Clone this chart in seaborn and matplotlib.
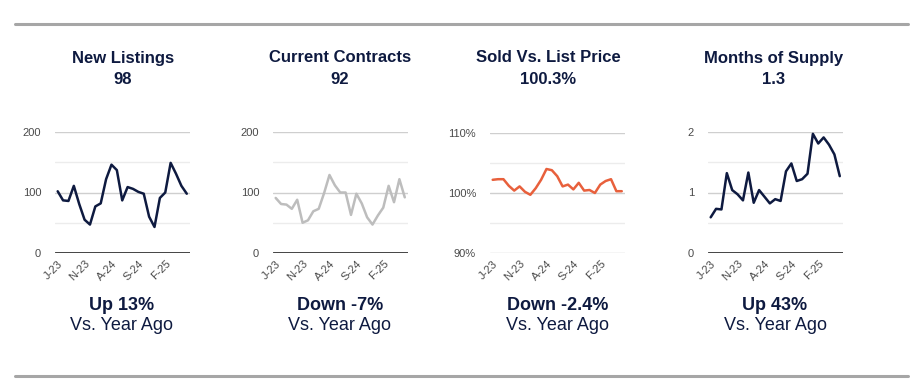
import pandas as pd
import matplotlib
matplotlib.use("Agg")
import matplotlib.pyplot as plt
import seaborn as sns

# monthly series, Jun 2023 .. Jun 2025
new_listings = [102, 87, 86, 111, 81, 55, 47, 77, 82, 122, 146, 137, 87, 109,
                106, 101, 98, 60, 43, 91, 100, 149, 131, 111, 98]
current_contracts = [91, 81, 80, 73, 88, 50, 54, 69, 73, 99, 129, 112, 100, 100,
                     63, 98, 82, 59, 47, 62, 75, 111, 84, 122, 92]
sold_vs_list = [102.2, 102.3, 102.3, 101.2, 100.4, 101.1, 100.2, 99.7, 100.8,
                102.2, 104.0, 103.8, 102.8, 101.1, 101.4, 100.6, 101.7, 100.4,
                100.5, 100.0, 101.4, 102.0, 102.3, 100.3, 100.3]
months_supply = [0.59, 0.73, 0.72, 1.32, 1.04, 0.97, 0.87, 1.33, 0.83, 1.04,
                 0.93, 0.82, 0.89, 0.86, 1.35, 1.48, 1.19, 1.22, 1.31, 1.97,
                 1.81, 1.91, 1.79, 1.63, 1.27]

tick_pos = [0, 5, 10, 15, 20]
tick_labels = ["J-23", "N-23", "A-24", "S-24", "F-25"]

titles = ["New Listings", "Current Contracts", "Sold Vs. List Price", "Months of Supply"]
headline = ["98", "92", "100.3%", "1.3"]
change = ["Up 13%", "Down -7%", "Down -2.4%", "Up 43%"]

navy = "#0e1a40"
series = [new_listings, current_contracts, sold_vs_list, months_supply]
colors = [navy, "#bdbdbd", "#e8603c", navy]
ylims = [(0, 200), (0, 200), (90, 110), (0, 2)]
yticks = [[0, 100, 200], [0, 100, 200], [90, 100, 110], [0, 1, 2]]
ylabels = [["0", "100", "200"], ["0", "100", "200"], ["90%", "100%", "110%"], ["0", "1", "2"]]
minor = [[50, 150], [50, 150], [95, 105], [0.5, 1.5]]
black_base = [True, True, False, True]

sns.set_theme(style="white")
plt.rcParams["font.family"] = ["Liberation Sans", "DejaVu Sans"]

W, H = 923, 388
fig = plt.figure(figsize=(W / 100, H / 100), dpi=100)

# axes boxes in pixels: left, top, right, bottom
boxes = [(55, 132, 190, 253), (273, 132, 408, 253), (490, 133, 625, 253), (708, 132, 843, 253)]
title_x = [123, 340, 548, 774]
foot_x = [122, 340, 558, 775]

for i in range(4):
    l, t, r, b = boxes[i]
    ax = fig.add_axes([l / W, 1 - b / H, (r - l) / W, (b - t) / H])
    df = pd.DataFrame({"m": range(len(series[i])), "v": series[i]})
    lo, hi = ylims[i]
    for y in yticks[i]:
        ax.axhline(y, color="#cfcfcf", lw=1.0, zorder=0)
    for y in minor[i]:
        ax.axhline(y, color="#ececec", lw=1.0, zorder=0)
    if black_base[i]:
        ax.axhline(lo, color="#111111", lw=1.8, zorder=1)
    sns.lineplot(data=df, x="m", y="v", ax=ax, color=colors[i], lw=1.8, zorder=3)
    ax.set_xlim(-0.5, 24.6)
    ax.set_ylim(lo, hi)
    ax.set_xlabel("")
    ax.set_ylabel("")
    ax.set_yticks(yticks[i])
    ax.set_yticklabels(ylabels[i])
    ax.set_xticks(tick_pos)
    ax.set_xticklabels(tick_labels, rotation=45, ha="right", rotation_mode="anchor")
    ax.tick_params(axis="y", length=0, pad=10, labelsize=8, labelcolor="#4a4a4a")
    ax.tick_params(axis="x", length=0, pad=4, labelsize=8, labelcolor="#4a4a4a")
    for s in ax.spines.values():
        s.set_visible(False)

    fig.text(title_x[i] / W, 1 - 58 / H, titles[i], ha="center", va="center",
             fontsize=12, fontweight="bold", color=navy)
    fig.text(title_x[i] / W, 1 - 79 / H, headline[i], ha="center", va="center",
             fontsize=12, fontweight="bold", color=navy)
    fig.text(foot_x[i] / W, 1 - 305 / H, change[i], ha="center", va="center",
             fontsize=13, fontweight="bold", color=navy)
    fig.text(foot_x[i] / W, 1 - 326 / H, "Vs. Year Ago", ha="center", va="center",
             fontsize=13, color=navy)

# horizontal rules top and bottom
for y in (24, 376):
    fig.add_artist(plt.Line2D([15 / W, 908 / W], [1 - y / H, 1 - y / H],
                              color="#a6a6a6", lw=2.2))

fig.savefig("out.png", dpi=100)
